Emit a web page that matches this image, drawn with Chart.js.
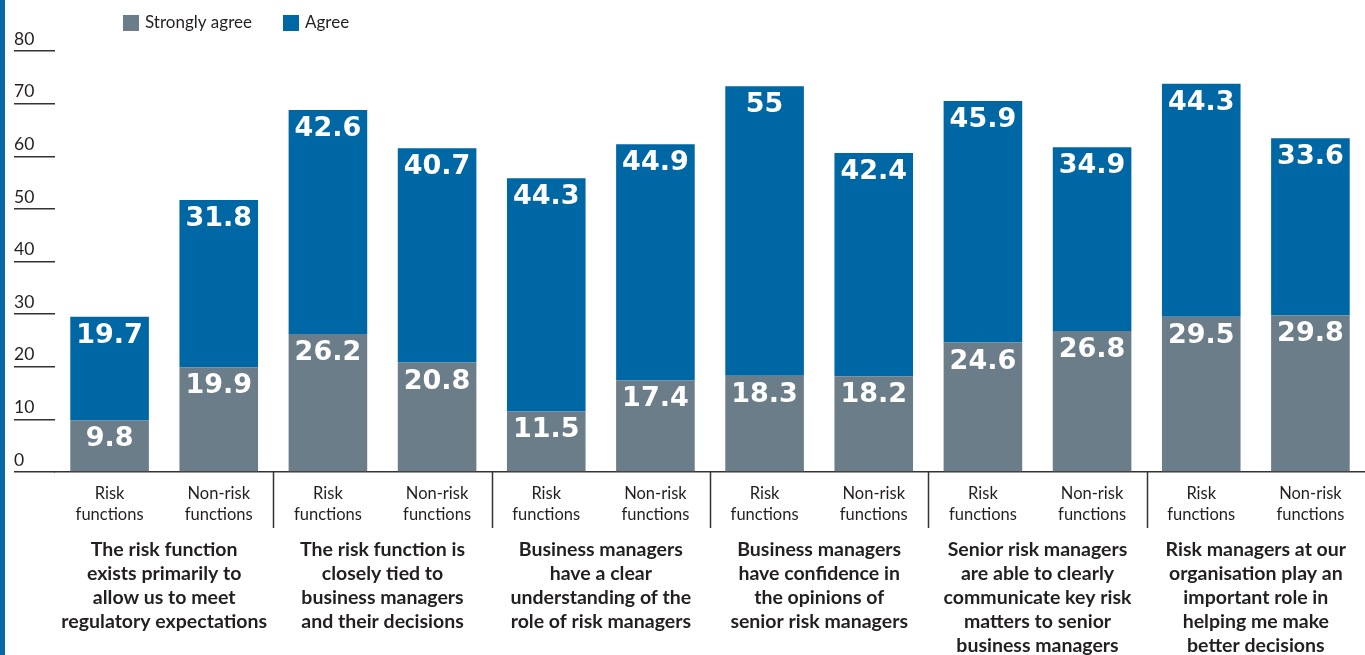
<!DOCTYPE html>
<html>
<head>
<meta charset="utf-8">
<script src="https://cdn.jsdelivr.net/npm/chart.js@4.4.1/dist/chart.umd.min.js"></script>
<style>
  html, body { margin: 0; padding: 0; background: #fff; overflow: hidden; }
  #wrap { width: 1365px; height: 655px; position: relative; }
</style>
</head>
<body>
<div id="wrap"><canvas id="myChart"></canvas></div>
<script>
const subLabels = [['Risk', 'functions'], ['Non-risk', 'functions']];
const groupLabels = [
  ['The risk function', 'exists primarily to', 'allow us to meet', 'regulatory expectations'],
  ['The risk function is', 'closely tied to', 'business managers', 'and their decisions'],
  ['Business managers', 'have a clear', 'understanding of the', 'role of risk managers'],
  ['Business managers', 'have confidence in', 'the opinions of', 'senior risk managers'],
  ['Senior risk managers', 'are able to clearly', 'communicate key risk', 'matters to senior', 'business managers'],
  ['Risk managers at our', 'organisation play an', 'important role in', 'helping me make', 'better decisions']
];
const stronglyAgree = [9.8, 19.9, 26.2, 20.8, 11.5, 17.4, 18.3, 18.2, 24.6, 26.8, 29.5, 29.8];
const agree = [19.7, 31.8, 42.6, 40.7, 44.3, 44.9, 55, 42.4, 45.9, 34.9, 44.3, 33.6];
const yTicks = [0, 10, 20, 30, 40, 50, 60, 70, 80];

const GREY = '#6b7d89';
const BLUE = '#0067a5';
const INK = '#231f20';

const labels = [];
groupLabels.forEach(() => subLabels.forEach(s => labels.push(s)));

const extras = {
  id: 'extras',
  beforeDraw(chart) {
    const c = chart.ctx;
    c.save();
    c.fillStyle = '#0a67a8';
    c.fillRect(0, 0, 5, chart.height);
    c.restore();
  },
  afterDatasetsDraw(chart) {
    const c = chart.ctx;
    c.save();
    c.fillStyle = '#fff';
    c.font = 'bold 27px "DejaVu Sans"';
    c.textAlign = 'center';
    c.textBaseline = 'middle';
    chart.data.datasets.forEach((ds, i) => {
      chart.getDatasetMeta(i).data.forEach((bar, j) => {
        c.fillText(String(ds.data[j]), bar.x, bar.y + 19);
      });
    });
    c.restore();
  },
  afterDraw(chart) {
    const c = chart.ctx;
    const xs = chart.scales.x;
    const bottom = chart.chartArea.bottom;
    c.save();
    // separators between groups
    c.strokeStyle = '#333';
    c.lineWidth = 1.5;
    for (let g = 1; g < groupLabels.length; g++) {
      const x = Math.round((xs.getPixelForValue(2 * g - 1) + xs.getPixelForValue(2 * g)) / 2) + 0.5;
      c.beginPath();
      c.moveTo(x, bottom);
      c.lineTo(x, bottom + 56);
      c.stroke();
    }
    // group titles
    c.fillStyle = INK;
    c.font = 'bold 19.5px Lato';
    c.textAlign = 'center';
    c.textBaseline = 'middle';
    groupLabels.forEach((lines, g) => {
      const x = (xs.getPixelForValue(2 * g) + xs.getPixelForValue(2 * g + 1)) / 2;
      lines.forEach((t, k) => c.fillText(t, x, bottom + 78 + k * 24));
    });
    // legend
    c.font = '17px Lato';
    c.textAlign = 'left';
    const legX = [123, 283];
    chart.data.datasets.forEach((ds, i) => {
      c.fillStyle = ds.backgroundColor;
      c.fillRect(legX[i], 15, 16, 16);
      c.fillStyle = INK;
      c.fillText(ds.label, legX[i] + 22, 23);
    });
    c.restore();
  }
};

new Chart(document.getElementById('myChart'), {
  type: 'bar',
  data: {
    labels: labels,
    datasets: [
      { label: 'Strongly agree', data: stronglyAgree, backgroundColor: GREY, barPercentage: 0.72, categoryPercentage: 1.0 },
      { label: 'Agree', data: agree, backgroundColor: BLUE, barPercentage: 0.72, categoryPercentage: 1.0 }
    ]
  },
  options: {
    responsive: true,
    maintainAspectRatio: false,
    animation: false,
    layout: { padding: { left: 14, right: -2, top: 51, bottom: 0 } },
    plugins: { legend: { display: false }, tooltip: { enabled: false } },
    scales: {
      x: {
        stacked: true,
        afterFit(s) { s.height = 183; },
        grid: { display: false, drawTicks: false },
        border: { display: true, color: '#333', width: 1.5 },
        ticks: { color: INK, font: { family: 'Lato', size: 16.5, lineHeight: 1.27 }, padding: 11, maxRotation: 0, autoSkip: false }
      },
      y: {
        stacked: true,
        min: 0,
        max: 80,
        afterFit(s) { s.width = 41; },
        afterBuildTicks(s) { s.ticks = yTicks.map(v => ({ value: v })); },
        grid: { drawOnChartArea: false, tickLength: 41, color: '#333', lineWidth: 1.5 },
        border: { display: false },
        ticks: { crossAlign: 'far', labelOffset: -12, padding: 0, color: INK, font: { family: 'Lato', size: 17.5 } }
      }
    }
  },
  plugins: [extras]
});
</script>
</body>
</html>
